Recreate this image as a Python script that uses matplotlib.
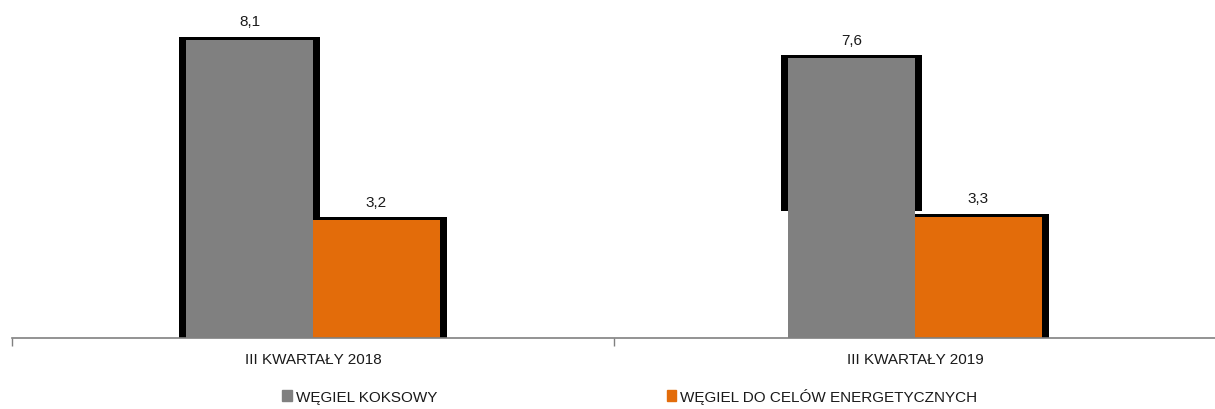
import numpy as np
import matplotlib.pyplot as plt
from matplotlib.patches import Patch

categories = ["III KWARTAŁY 2018", "III KWARTAŁY 2019"]
koksowy = [8.1, 7.6]
energetyczny = [3.2, 3.3]
labels_k = ["8,1", "7,6"]
labels_e = ["3,2", "3,3"]
series_names = ["WĘGIEL KOKSOWY", "WĘGIEL DO CELÓW ENERGETYCZNYCH"]
# lower end of the black shadow drawn behind the grey bars (rendering artefact in 2019)
shadow_bottom_k = [0.0, 3.45]

plt.rcParams['font.family'] = ['Liberation Sans Narrow', 'Liberation Sans', 'DejaVu Sans']

GREY = "#808080"
ORANGE = "#E36C0A"
TXT = "#1a1a1a"

fig = plt.figure(figsize=(12.15, 4.1), dpi=100)
ax = fig.add_axes([12 / 1215, 71 / 410, 1204 / 1215, 339 / 410])

x = np.arange(len(categories))
w = 127 / 602
ext = 7 / 602
top_ext = 0.08

# black "shadow" behind bars
ax.bar(x - w / 2, np.array(koksowy) + top_ext - np.array(shadow_bottom_k), width=w + 2 * ext,
       bottom=shadow_bottom_k, color="black", zorder=1)
ax.bar(x + w / 2, np.array(energetyczny) + top_ext, width=w + 2 * ext, color="black", zorder=1)

ax.bar(x - w / 2, koksowy, width=w, color=GREY, zorder=3)
ax.bar(x + w / 2, energetyczny, width=w, color=ORANGE, zorder=2)

for i in range(len(x)):
    ax.text(x[i] - w / 2, koksowy[i] + 0.4, labels_k[i], ha="center", va="baseline",
            fontsize=11, color=TXT)
    ax.text(x[i] + w / 2, energetyczny[i] + 0.4, labels_e[i], ha="center", va="baseline",
            fontsize=11, color=TXT)

ax.set_xlim(-0.5, 1.5)
ax.set_ylim(0, 339 / 36.8)
for s in ["top", "right", "left"]:
    ax.spines[s].set_visible(False)
ax.spines["bottom"].set_color(GREY)
ax.spines["bottom"].set_linewidth(1.2)
ax.set_yticks([])
ax.set_xticks(x)
ax.set_xticklabels(categories, fontsize=11, color=TXT)
ax.tick_params(axis="x", which="major", length=0, pad=10)
ax.set_xticks([-0.5, 0.5, 1.5], minor=True)
ax.tick_params(axis="x", which="minor", length=6, color=GREY, width=1)

handles = [Patch(color=GREY, label=series_names[0]), Patch(color=ORANGE, label=series_names[1])]
fig.legend(handles=handles, loc="center", bbox_to_anchor=(0.5185, 0.032), ncol=2, frameon=False,
           fontsize=11, handlelength=0.6, handleheight=0.75, handletextpad=0.3,
           columnspacing=15.0, labelcolor=TXT)

fig.savefig("out.png", dpi=100)
